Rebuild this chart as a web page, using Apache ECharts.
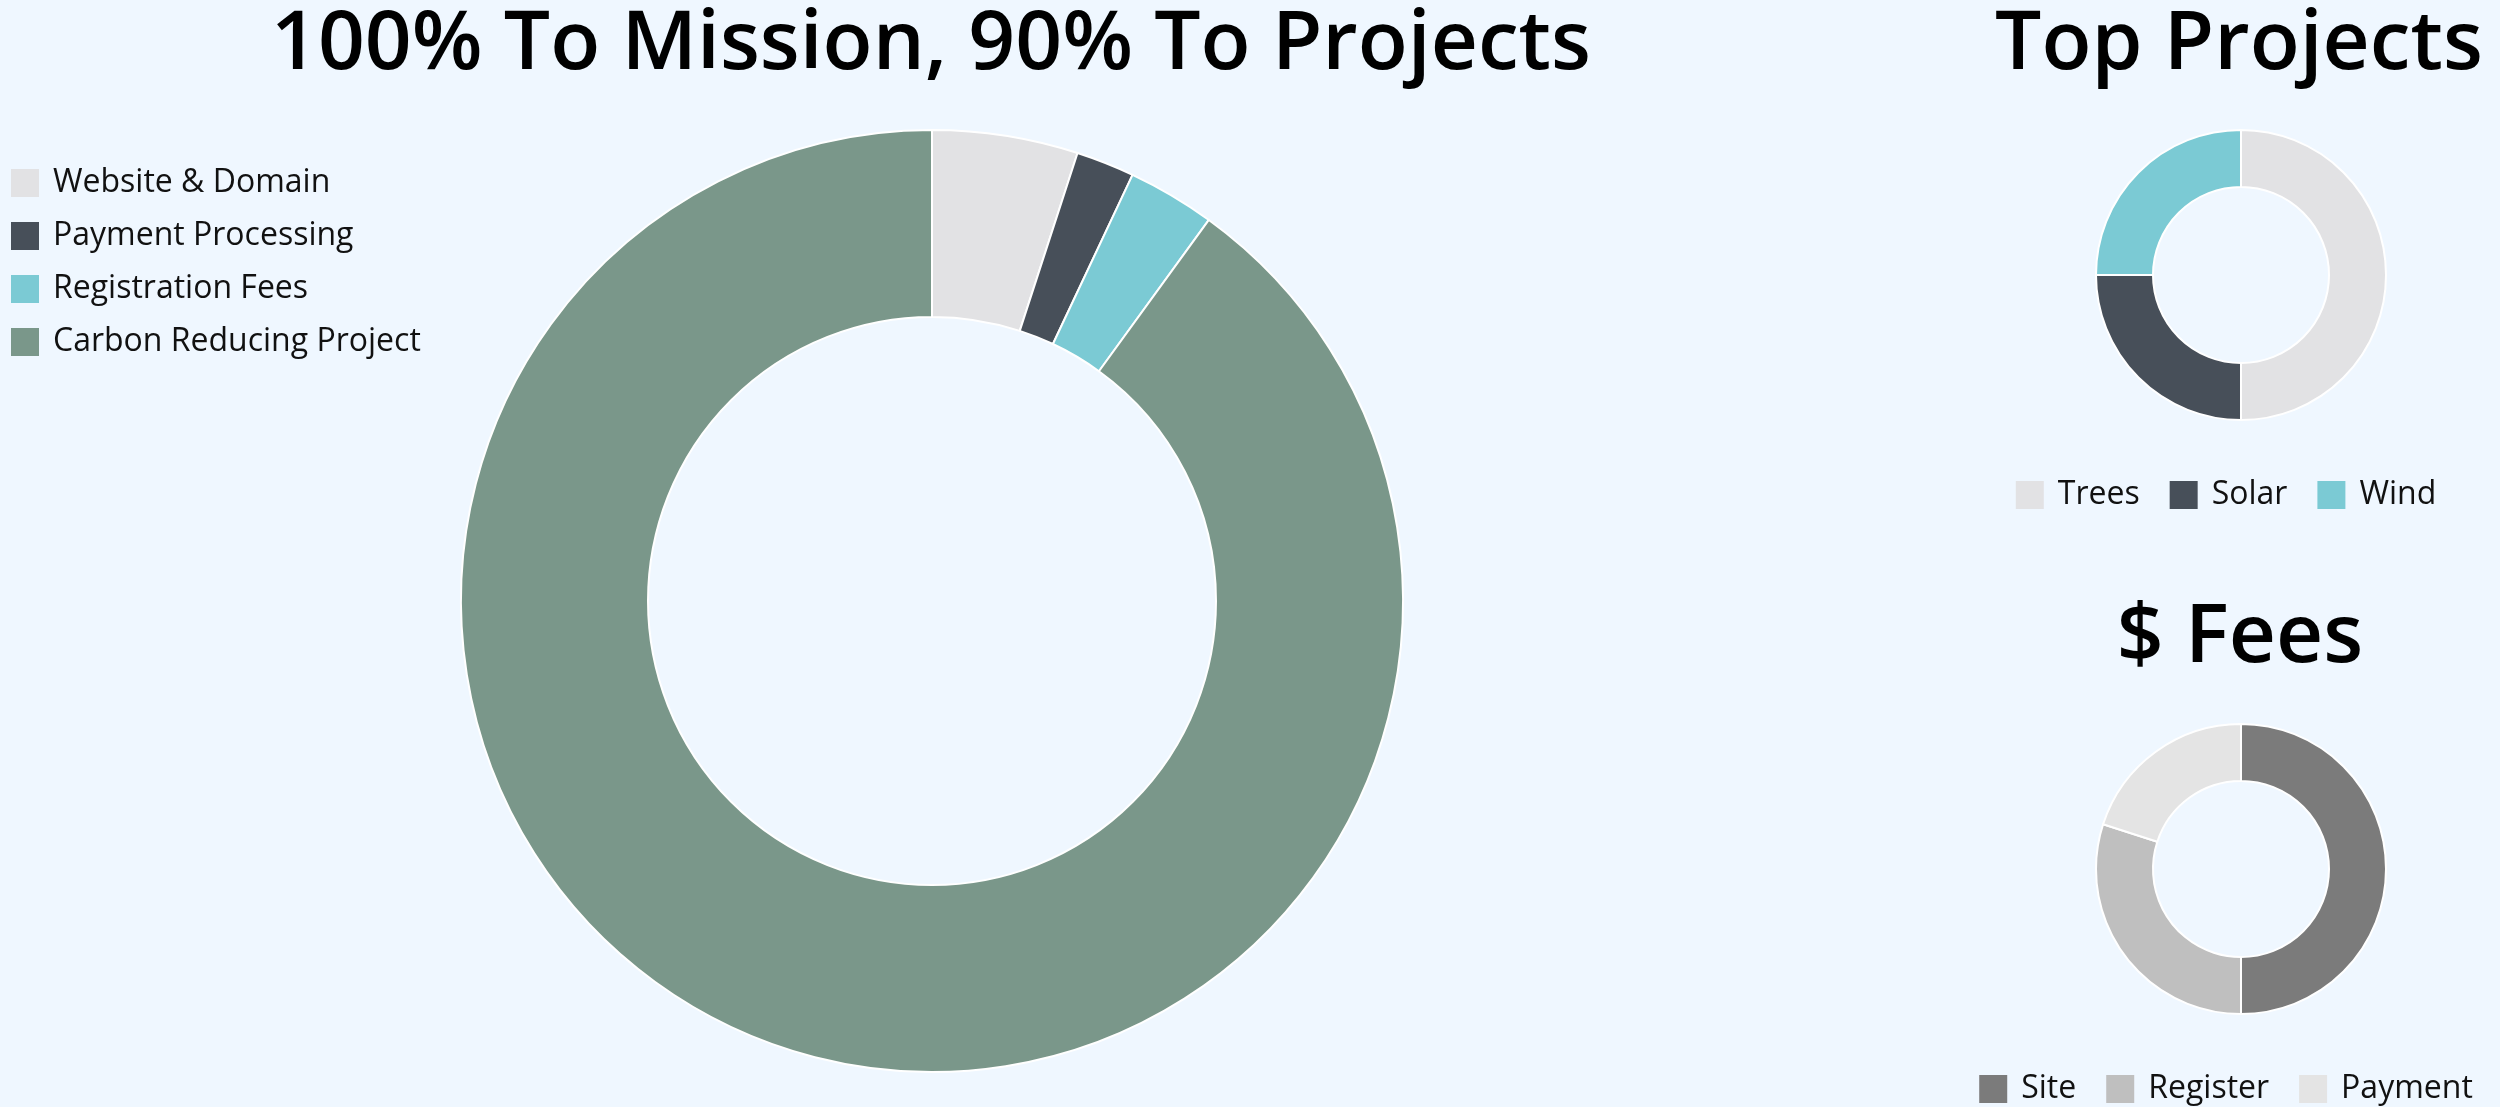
<!DOCTYPE html>
<html>
<head>
<meta charset="utf-8">
<script src="https://cdn.jsdelivr.net/npm/echarts@6/dist/echarts.min.js"></script>
<style>
  html, body { margin: 0; padding: 0; background: #eff7ff; width: 2500px; height: 1107px; overflow: hidden; }
  #main { position: absolute; left: 0; top: 0; width: 2500px; height: 1107px; }
  #side { position: absolute; left: 1952px; top: 0; width: 548px; height: 1107px; }
</style>
</head>
<body>
<div id="main"></div>
<div id="side"></div>
<script>
// ---- data ----
const mainTitle = '100% To Mission, 90% To Projects';
const mainCategories = ['Website & Domain', 'Payment Processing', 'Registration Fees', 'Carbon Reducing Project'];
const mainValues = [5, 2, 3, 90];
const mainColors = ['#e2e2e4', '#474f59', '#7bcad4', '#7a978a'];

const projTitle = 'Top Projects';
const projCategories = ['Trees', 'Solar', 'Wind'];
const projValues = [50, 25, 25];
const projColors = ['#e2e2e4', '#474f59', '#7bcad4'];

const feesTitle = '$ Fees';
const feesCategories = ['Site', 'Register', 'Payment'];
const feesValues = [50, 30, 20];
const feesColors = ['#7b7b7b', '#bfbfbf', '#e4e4e4'];

// ---- styles ----
const FONT = '"Open Sans", "Noto Sans", sans-serif';
const titleStyle = { fontFamily: FONT, fontSize: 82, fontWeight: 600, color: '#000', lineHeight: 82 };
const legendText = { fontFamily: FONT, fontSize: 32, fontWeight: 400, color: '#111', lineHeight: 28, padding: [0, 0, 0, 9] };

function toData(cats, vals, cols) {
  return cats.map((c, i) => ({ name: c, value: vals[i], itemStyle: { color: cols[i] } }));
}
function pie(name, cats, vals, cols, center, radius) {
  return {
    type: 'pie', name: name, center: center, radius: radius,
    startAngle: 90, clockwise: true, avoidLabelOverlap: false,
    label: { show: false }, labelLine: { show: false },
    emphasis: { disabled: true }, silent: true,
    itemStyle: { borderColor: '#ffffff', borderWidth: 2 },
    data: toData(cats, vals, cols)
  };
}

const mainChart = echarts.init(document.getElementById('main'), null, { renderer: 'canvas' });
mainChart.setOption({
  animation: false,
  backgroundColor: '#eff7ff',
  title: [{ text: mainTitle, left: 931, top: 5, padding: 0, textAlign: 'center', textStyle: titleStyle }],
  legend: [{
    orient: 'vertical', left: 11, top: 167, padding: 0,
    itemWidth: 28, itemHeight: 28, itemGap: 21, icon: 'rect',
    itemStyle: { borderWidth: 0 },
    data: mainCategories, textStyle: legendText
  }],
  series: [pie('main', mainCategories, mainValues, mainColors, [932, 601], [284, 471])]
});

const sideChart = echarts.init(document.getElementById('side'), null, { renderer: 'canvas' });
sideChart.setOption({
  animation: false,
  title: [
    { text: projTitle, left: 287, top: 5, padding: 0, textAlign: 'center', textStyle: titleStyle },
    { text: feesTitle, left: 288, top: 598, padding: 0, textAlign: 'center', textStyle: titleStyle }
  ],
  legend: [
    { orient: 'horizontal', left: 'center', top: 479, padding: 0, itemWidth: 28, itemHeight: 28, itemGap: 30,
      icon: 'rect', itemStyle: { borderWidth: 0 }, data: projCategories, textStyle: legendText },
    { orient: 'horizontal', left: 'center', top: 1073, padding: 0, itemWidth: 28, itemHeight: 28, itemGap: 30,
      icon: 'rect', itemStyle: { borderWidth: 0 }, data: feesCategories, textStyle: legendText }
  ],
  series: [
    pie('projects', projCategories, projValues, projColors, [289, 275], [88, 145]),
    pie('fees', feesCategories, feesValues, feesColors, [289, 869], [88, 145])
  ]
});
</script>
</body>
</html>
